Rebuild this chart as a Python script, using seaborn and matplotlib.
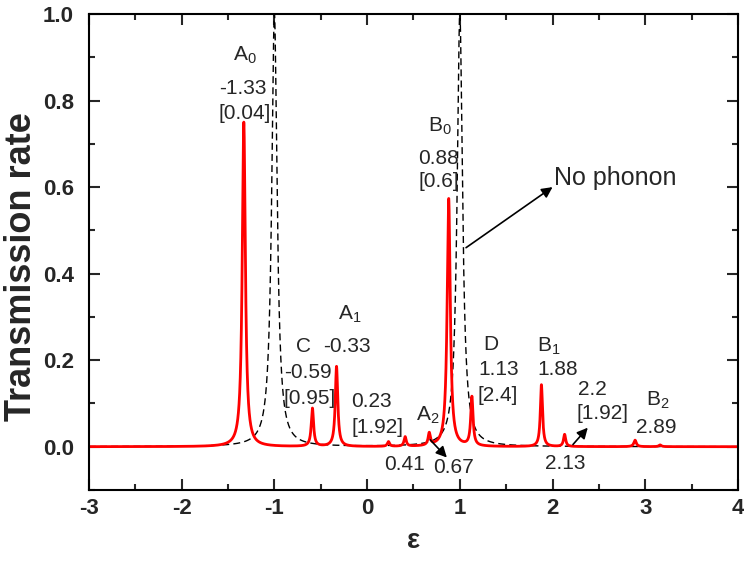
import numpy as np
import pandas as pd
import matplotlib
matplotlib.use("Agg")
import matplotlib.pyplot as plt
import seaborn as sns

# ---- data ----
# red curve (with phonon): resonance positions, peak heights, half-widths
red_pos = [-1.33, -0.59, -0.33, 0.23, 0.41, 0.67, 0.88, 1.13, 1.88, 2.13, 2.89, 3.16]
red_height = [0.75, 0.088, 0.185, 0.011, 0.022, 0.028, 0.573, 0.113, 0.143, 0.028, 0.015, 0.004]
red_width = [0.02, 0.015, 0.016, 0.014, 0.014, 0.014, 0.02, 0.015, 0.014, 0.014, 0.016, 0.016]
# dashed curve (no phonon)
nop_pos = [-1.0, 1.0]
nop_height = [1.0, 1.0]
nop_width = [0.035, 0.035]

x_ticks = [-3, -2, -1, 0, 1, 2, 3, 4]
y_ticks = [0.0, 0.2, 0.4, 0.6, 0.8, 1.0]

# annotation texts: (x, y, text)
labels = [
    (-1.32, 0.905, r"A$_0$"), (-1.34, 0.827, "-1.33"), (-1.32, 0.769, "[0.04]"),
    (0.79, 0.741, r"B$_0$"), (0.775, 0.667, "0.88"), (0.775, 0.614, "[0.6]"),
    (-0.69, 0.231, "C"), (-0.64, 0.171, "-0.59"), (-0.62, 0.111, "[0.95]"),
    (-0.19, 0.305, r"A$_1$"), (-0.217, 0.231, "-0.33"),
    (0.05, 0.104, "0.23"), (0.107, 0.044, "[1.92]"),
    (0.65, 0.072, r"A$_2$"), (0.398, -0.042, "0.41"), (0.937, -0.049, "0.67"),
    (1.336, 0.236, "D"), (1.42, 0.178, "1.13"), (1.41, 0.118, "[2.4]"),
    (1.96, 0.233, r"B$_1$"), (2.06, 0.178, "1.88"),
    (2.43, 0.132, "2.2"), (2.54, 0.076, "[1.92]"), (2.134, -0.039, "2.13"),
    (3.14, 0.108, r"B$_2$"), (3.12, 0.044, "2.89"),
]
arrows = [  # (tail_x, tail_y, head_x, head_y)
    (1.067, 0.46, 2.0, 0.60),
    (0.68, 0.016, 0.86, -0.025),
    (2.22, 0.005, 2.38, 0.044),
]

# ---- build curves ----
eps = np.linspace(-3, 4, 14001)

def lorentz_sum(pos, h, w):
    out = np.zeros_like(eps)
    for p, hh, ww in zip(pos, h, w):
        out += hh * ww**2 / ((eps - p) ** 2 + ww**2)
    return out

df = pd.DataFrame({
    "eps": eps,
    "red": lorentz_sum(red_pos, red_height, red_width),
    "nop": lorentz_sum(nop_pos, nop_height, nop_width),
})

sns.set_theme(style="ticks")
plt.rcParams["font.family"] = ["Liberation Sans", "DejaVu Sans"]
plt.rcParams["mathtext.fontset"] = "custom"
plt.rcParams["mathtext.rm"] = "Liberation Sans"
plt.rcParams["mathtext.it"] = "Liberation Sans:italic"

fig = plt.figure(figsize=(7.44, 5.63), dpi=100)
ax = fig.add_axes([0.1196, 0.1297, 0.8723, 0.8454])

sns.lineplot(data=df, x="eps", y="nop", ax=ax, color="black", lw=1.0,
             linestyle=(0, (5, 3)), estimator=None, sort=False)
sns.lineplot(data=df, x="eps", y="red", ax=ax, color="#ff0000", lw=2.0,
             estimator=None, sort=False)

ax.set_xlim(-3, 4)
ax.set_ylim(-0.1, 1.0)
ax.set_xticks(x_ticks)
ax.set_xticklabels([str(t) for t in x_ticks])
ax.set_yticks(y_ticks)
ax.set_yticklabels([f"{t:.1f}" for t in y_ticks])
ax.set_xticks(np.arange(-2.5, 4, 1.0), minor=True)
ax.set_yticks(np.arange(-0.1, 1.0, 0.2), minor=True)
ax.tick_params(which="both", direction="in", top=True, right=True, width=1.5)
ax.tick_params(which="major", length=8, labelsize=16)
ax.tick_params(which="minor", length=4.5)
ax.tick_params(axis="y", pad=11)
ax.tick_params(axis="x", pad=6)
for lab in ax.get_xticklabels() + ax.get_yticklabels():
    lab.set_fontweight("bold")
for s in ax.spines.values():
    s.set_linewidth(1.5)
    s.set_color("black")

ax.set_xlabel("ε", fontsize=20, fontweight="bold")
ax.set_ylabel("Transmission rate", fontsize=26, fontweight="bold")
ax.yaxis.set_label_coords(-0.077, 0.47)
ax.xaxis.set_label_coords(0.5, -0.08)

for x, y, t in labels:
    ax.text(x, y, t, fontsize=15, ha="center", va="center")
ax.text(2.02, 0.62, "No phonon", fontsize=18, ha="left", va="center")

for tx, ty, hx, hy in arrows:
    ax.annotate("", xy=(hx, hy), xytext=(tx, ty),
                arrowprops=dict(arrowstyle="-|>", color="black", lw=1.2,
                                mutation_scale=16, shrinkA=0, shrinkB=0))

fig.savefig("out.png", dpi=100)
